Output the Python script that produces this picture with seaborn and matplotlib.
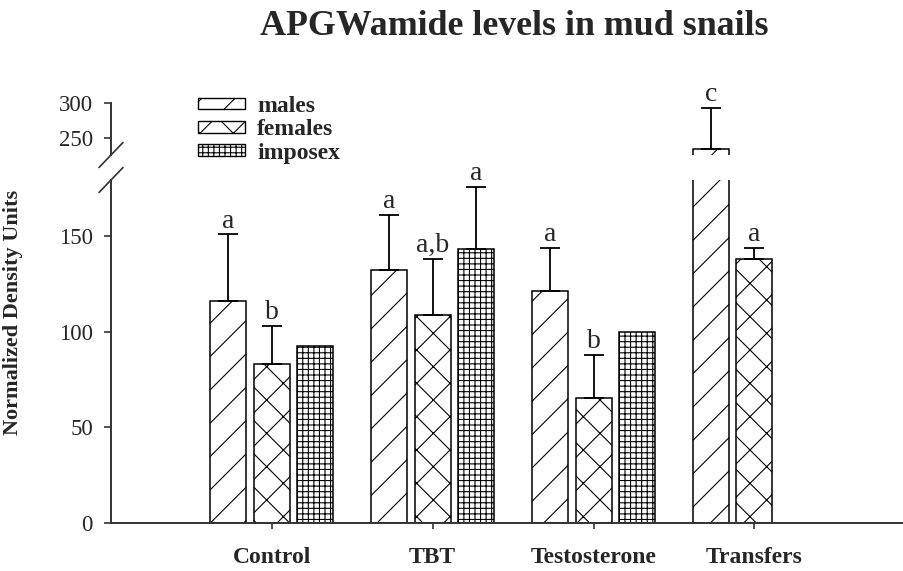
import matplotlib
matplotlib.use("Agg")

import matplotlib.pyplot as plt
from matplotlib.lines import Line2D
from matplotlib.patches import Patch
import seaborn as sns
import pandas as pd

sns.set_style("ticks")
plt.rcParams["font.family"] = ["Liberation Serif", "DejaVu Serif"]
plt.rcParams["hatch.linewidth"] = 0.8

groups = ["Control", "TBT", "Testosterone", "Transfers"]
sexes = ["males", "females", "imposex"]
hatches = ["/", "x", "+++"]

# values (no imposex in the Transfers group)
males = [116, 132.5, 121.5, 234]
males_err = [35, 28.5, 22.5, 59]
males_sig = ["a", "a", "a", "c"]

females = [83, 109, 65.5, 138]
females_err = [20, 29, 22.5, 6]
females_sig = ["b", "a,b", "b", "a"]

imposex = [92.5, 143.5, 100]
imposex_err = [0, 32.5, 0]
imposex_sig = ["", "a", ""]

rows = []
for sex, vals, errs, sigs in [("males", males, males_err, males_sig),
                              ("females", females, females_err, females_sig),
                              ("imposex", imposex, imposex_err, imposex_sig)]:
    for g, v, e, s in zip(groups, vals, errs, sigs):
        rows.append({"group": g, "sex": sex, "value": v, "err": e, "sig": s})
df = pd.DataFrame(rows)

fig = plt.figure(figsize=(9.04, 5.71), dpi=100)
ax_lo = fig.add_axes([111 / 904, 1 - 523 / 571, 793 / 904, 343 / 571])
ax_hi = fig.add_axes([111 / 904, 1 - 155 / 571, 793 / 904, 52 / 571])

spine_col = "#333333"
for ax in (ax_lo, ax_hi):
    sns.barplot(data=df, x="group", y="value", hue="sex", order=groups,
                hue_order=sexes, palette={s: "white" for s in sexes},
                width=0.81, gap=0.17, errorbar=None, edgecolor="black",
                linewidth=1.1, legend=False, ax=ax)
    bar_conts = list(ax.containers)
    for k, cont in enumerate(bar_conts):
        sub = df[df["sex"] == sexes[k]].reset_index(drop=True)
        for bar, (_, r) in zip(cont, sub.iterrows()):
            bar.set_hatch(hatches[k])
            x = bar.get_x() + bar.get_width() / 2
            if r["err"] > 0:
                ax.errorbar(x, r["value"], yerr=[[0], [r["err"]]], fmt="none",
                            ecolor="black", elinewidth=1.3, capsize=7, capthick=1.3)
            if r["sig"]:
                ax.annotate(r["sig"], (x, r["value"] + r["err"]), xytext=(0, 5),
                            textcoords="offset points", ha="center", va="baseline",
                            fontsize=20)
    ax.set_xlim(-1.0, 3.93)
    ax.set_xlabel("")
    ax.set_ylabel("")
    for side in ("top", "right"):
        ax.spines[side].set_visible(False)
    ax.spines["left"].set_color(spine_col)
    ax.spines["left"].set_linewidth(1.4)
    ax.tick_params(axis="y", labelsize=16.5, length=5, width=1.2, color=spine_col, pad=8)

ax_lo.set_ylim(0, 179.5)
ax_lo.set_yticks([0, 50, 100, 150])
ax_lo.spines["bottom"].set_color(spine_col)
ax_lo.spines["bottom"].set_linewidth(1.4)
ax_lo.set_xticks(range(len(groups)))
ax_lo.set_xticklabels(groups, fontsize=17, fontweight="bold")
ax_lo.tick_params(axis="x", length=4, width=1.2, color=spine_col, pad=13)
ax_lo.set_ylabel("Normalized Density Units", fontsize=16, fontweight="bold")
ax_lo.yaxis.set_label_coords(-0.111, 0.615)

ax_hi.set_ylim(225.7, 300)
ax_hi.set_yticks([250, 300])
ax_hi.spines["bottom"].set_visible(False)
ax_hi.set_xticks([])

# axis break marks on the left spine
x0 = 111 / 904
for yb in (1 - 155 / 571, 1 - 180 / 571):
    fig.add_artist(Line2D([x0 - 12 / 904, x0 + 12 / 904],
                          [yb - 12.5 / 571, yb + 12.5 / 571],
                          transform=fig.transFigure, color=spine_col, lw=1.2))

handles = [Patch(facecolor="white", edgecolor="black", hatch=h, label=s)
           for s, h in zip(sexes, hatches)]
fig.legend(handles=handles, loc="upper left", bbox_to_anchor=(198 / 904, 1 - 96 / 571),
           frameon=False, borderpad=0, borderaxespad=0, handlelength=2.0,
           handleheight=0.38, handletextpad=0.5, labelspacing=0.1,
           prop={"size": 17, "weight": "bold"})

fig.text(514 / 904, 1 - 35 / 571, "APGWamide levels in mud snails", ha="center",
         va="baseline", fontsize=25.8, fontweight="bold")

fig.savefig("out.png", dpi=100)
